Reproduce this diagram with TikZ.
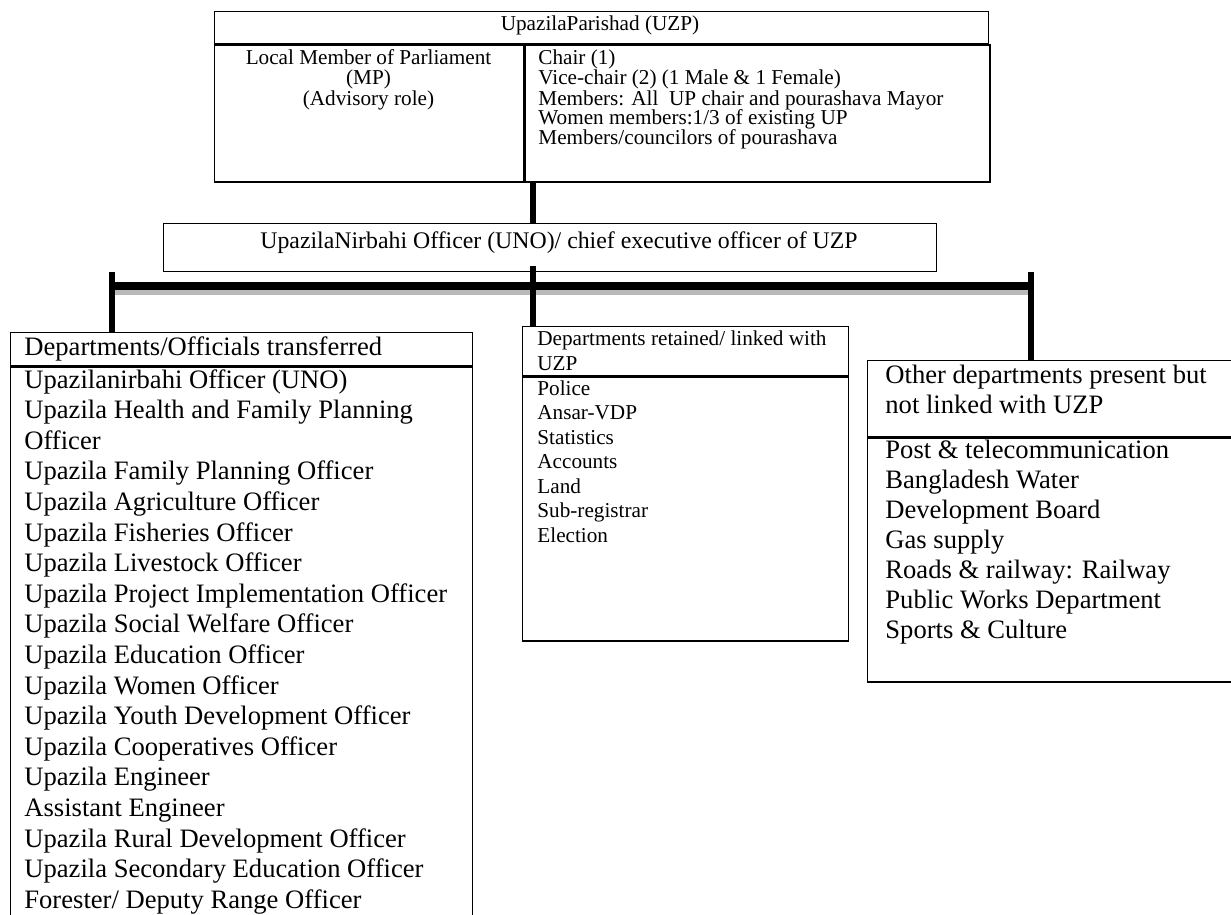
\documentclass[tikz,border=0pt]{standalone}
\usepackage{fontspec}
\setmainfont{Liberation Serif}
\usetikzlibrary{positioning}

\newcommand\bigtxt{\fontsize{13.3pt}{15.3pt}\selectfont}
\newcommand\unotxt{\fontsize{11.9pt}{14pt}\selectfont}
\newcommand\smalltxt{\fontsize{10.6pt}{10pt}\selectfont}

\begin{document}
\begin{tikzpicture}[x=0.5pt, y=-0.5pt,
	panel/.style={draw, line width=0.7pt, inner sep=0pt, anchor=north west},
	txt/.style={inner sep=0pt, anchor=base west},
	stem/.style={line width=2.6pt},
	bus/.style={line width=3.8pt}]

\path[use as bounding box, clip] (0,0) rectangle (1231,915);

% Upazila Parishad box
\node[panel, minimum width=387pt, minimum height=16pt] (uzphead) at (214,11) {};
\node[panel, minimum width=154.5pt, minimum height=68.5pt, below=0pt of uzphead.south west, anchor=north west] (mpcell) {};
\node[panel, minimum width=232.5pt, minimum height=68.5pt, right=0pt of mpcell.north east, anchor=north west] (memcell) {};

\node[txt, anchor=base, font=\smalltxt] (uzptitle) at (600,31) {UpazilaParishad (UZP)};
\foreach \t [count=\k from 0] in {Local Member of Parliament, {(MP)}, {(Advisory role)}} {
	\node[txt, anchor=base, font=\smalltxt] (mp\k) at (368.5,{65+20*\k}) {\t};
}
\foreach \t [count=\k from 0] in {Chair (1), Vice-chair (2) (1 Male \& 1 Female), Members: All~ UP chair and pourashava Mayor, Women members:1/3 of existing UP, Members/councilors of pourashava} {
	\node[txt, font=\smalltxt] (mem\k) at (538,{65+20*\k}) {\t};
}

% Nirbahi officer box
\node[panel, minimum width=386.5pt, minimum height=24pt] (uno) at (163,223) {};
\node[txt, font=\unotxt] (unotitle) at (260,248) {UpazilaNirbahi Officer (UNO)/ chief executive officer of UZP};

% Departments transferred
\node[panel, minimum width=231pt, minimum height=16.5pt] (trhead) at (10,332) {};
\node[panel, minimum width=231pt, minimum height=290pt, below=0pt of trhead.south west, anchor=north west] (trbody) {};
\node[txt, font=\bigtxt] (trtitle) at (24,355) {Departments/Officials transferred};
\foreach \t [count=\k from 0] in {Upazilanirbahi Officer (UNO), Upazila Health and Family Planning, Officer, Upazila Family Planning Officer, Upazila Agriculture Officer, Upazila Fisheries Officer, Upazila Livestock Officer, Upazila Project Implementation Officer, Upazila Social Welfare Officer, Upazila Education Officer, Upazila Women Officer, Upazila Youth Development Officer, Upazila Cooperatives Officer, Upazila Engineer, Assistant Engineer, Upazila Rural Development Officer, Upazila Secondary Education Officer, Forester/ Deputy Range Officer} {
	\node[txt, font=\bigtxt] (tr\k) at (24,{388+30.6*\k}) {\t};
}

% Departments retained
\node[panel, minimum width=163pt, minimum height=24.5pt] (rthead) at (522,326) {};
\node[panel, minimum width=163pt, minimum height=132pt, below=0pt of rthead.south west, anchor=north west] (rtbody) {};
\foreach \t [count=\k from 0] in {Departments retained/ linked with, UZP} {
	\node[txt, font=\smalltxt] (rtt\k) at (537,{345+25*\k}) {\t};
}
\foreach \t [count=\k from 0] in {Police, Ansar-VDP, Statistics, Accounts, Land, Sub-registrar, Election} {
	\node[txt, font=\smalltxt] (rt\k) at (537,{395+24.5*\k}) {\t};
}

% Other departments
\node[panel, minimum width=190pt, minimum height=38pt] (othead) at (867,360) {};
\node[panel, minimum width=190pt, minimum height=122pt, below=0pt of othead.south west, anchor=north west] (otbody) {};
\foreach \t [count=\k from 0] in {Other departments present but, not linked with UZP} {
	\node[txt, font=\bigtxt] (ott\k) at (885,{383+30*\k}) {\t};
}
\foreach \t [count=\k from 0] in {Post \& telecommunication, Bangladesh Water, Development Board, Gas supply, Roads \& railway: Railway, Public Works Department, Sports \& Culture} {
	\node[txt, font=\bigtxt] (ot\k) at (885,{458+30*\k}) {\t};
}

% Connectors
\coordinate (spine) at (533,0);
\coordinate (busL) at (112,286);
\coordinate (busR) at (1031,286);
\coordinate (legL) at (112,272);
\coordinate (legM) at (533,266);
\coordinate (legR) at (1031,272);

\draw[stem] (memcell.south -| spine) -- (uno.north -| spine);
\draw[gray!55, line width=2.5pt] ([yshift=-3.2pt]busL) -- ([yshift=-3.2pt]busR);
\draw[bus] (busL) -- (busR);
\draw[stem] (legL) -- (trhead.north -| legL);
\draw[stem] (legM) -- (rthead.north -| legM);
\draw[stem] (legR) -- (othead.north -| legR);

\end{tikzpicture}
\end{document}
